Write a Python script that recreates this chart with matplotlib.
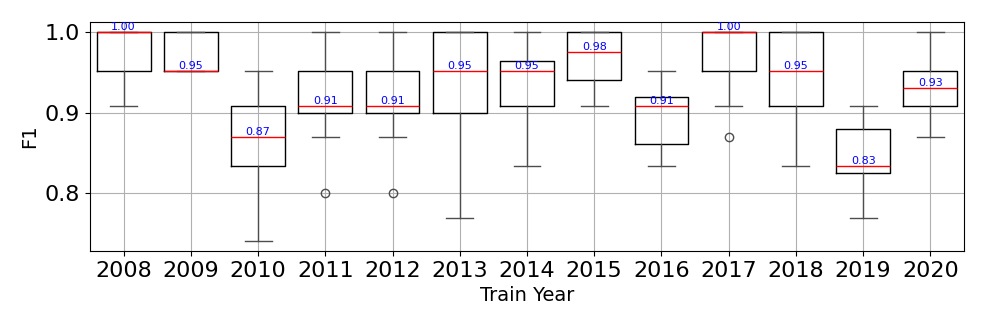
import matplotlib
matplotlib.use("Agg")
import matplotlib.pyplot as plt

# box statistics per train year
years = ["2008", "2009", "2010", "2011", "2012", "2013", "2014",
         "2015", "2016", "2017", "2018", "2019", "2020"]
medians = [1.000, 0.952, 0.870, 0.909, 0.909, 0.952, 0.952,
           0.976, 0.909, 1.000, 0.952, 0.834, 0.931]
q1 = [0.952, 0.952, 0.834, 0.900, 0.900, 0.900, 0.909,
      0.941, 0.861, 0.952, 0.909, 0.825, 0.909]
q3 = [1.000, 1.000, 0.909, 0.952, 0.952, 1.000, 0.964,
      1.000, 0.920, 1.000, 1.000, 0.880, 0.952]
whis_lo = [0.909, 0.952, 0.741, 0.870, 0.870, 0.769, 0.834,
           0.909, 0.834, 0.909, 0.834, 0.769, 0.870]
whis_hi = [1.000, 1.000, 0.952, 1.000, 1.000, 1.000, 1.000,
           1.000, 0.952, 1.000, 1.000, 0.909, 1.000]
fliers = [[], [], [], [0.800], [0.800], [], [],
          [], [], [0.870], [], [], []]

stats = []
for i, y in enumerate(years):
    stats.append({
        "label": y,
        "med": medians[i],
        "q1": q1[i],
        "q3": q3[i],
        "whislo": whis_lo[i],
        "whishi": whis_hi[i],
        "fliers": fliers[i],
    })

fig = plt.figure(figsize=(9.87, 3.29), dpi=100)
ax = fig.add_axes([0.0912, 0.237, 0.8855, 0.696])

gray = "#4d4d4d"
ax.bxp(stats, widths=0.8,
       boxprops=dict(color="black", linewidth=1.0),
       whiskerprops=dict(color=gray, linewidth=1.0),
       capprops=dict(color=gray, linewidth=1.0),
       medianprops=dict(color="red", linewidth=1.0),
       flierprops=dict(marker="o", markerfacecolor="none",
                       markeredgecolor=gray, markersize=6))

# median labels
for i, m in enumerate(medians):
    ax.text(i + 1, m, f"{m:.2f}", color="blue", fontsize=8,
            ha="center", va="bottom")

ax.set_ylim(0.728, 1.013)
ax.set_yticks([0.8, 0.9, 1.0])
ax.grid(True, color="#b0b0b0", linewidth=0.8)
ax.tick_params(axis="both", labelsize=16)
ax.set_xlabel("Train Year", fontsize=14)
ax.set_ylabel("F1", fontsize=14)

fig.savefig("out.png", dpi=100)
